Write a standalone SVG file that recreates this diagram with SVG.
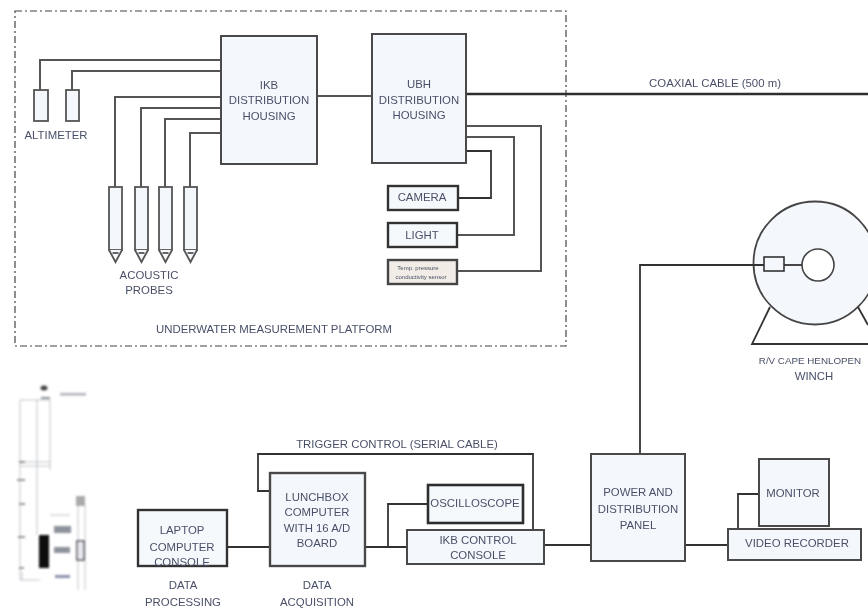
<svg xmlns="http://www.w3.org/2000/svg" width="868" height="609" viewBox="0 0 868 609">
<style>
text{font-family:"Liberation Sans",Arial,sans-serif;font-size:11.400px;fill:#4a5068;text-anchor:middle}
.box{fill:#f4f8fc;stroke:#4a4a4a;stroke-width:2}
.dark{fill:#f6f9fc;stroke:#333;stroke-width:2.400}
.probe{fill:#f4f8fc;stroke:#555;stroke-width:1.800}
.w{fill:none;stroke:#555;stroke-width:2}
.k{fill:none;stroke:#333;stroke-width:1.800}
.t{stroke:#b0b4bc;stroke-width:.8;fill:none}
.blob{fill:#8d929c}
</style>
<defs>
<filter id="soft" x="0" y="0" width="868" height="609" filterUnits="userSpaceOnUse"><feGaussianBlur stdDeviation="0.45"/></filter>
<filter id="softer" x="0" y="370" width="120" height="230" filterUnits="userSpaceOnUse"><feGaussianBlur stdDeviation="0.8"/></filter>
<g id="probe"><rect class="probe" x="0" y="0" width="13" height="63"/><path class="probe" d="M0 63 L6.500 75 L13 63"/><path class="probe" d="M3.500 66 H9.500"/></g>
</defs>
<rect width="868" height="609" fill="#fff"/>
<g filter="url(#soft)">
<g id="platform">
<rect x="15" y="11" width="551" height="335" fill="none" stroke="#444" stroke-width="1.200" stroke-dasharray="7 3 2 3"/>
<text x="274" y="333">UNDERWATER MEASUREMENT PLATFORM</text>
</g>
<g id="winch">
<path class="k" d="M770 307L752 344H868M858 307L868 325"/>
<circle cx="815" cy="263" r="61.500" fill="#f4f8fc" stroke="#444" stroke-width="1.800"/>
<circle cx="818" cy="265" r="16" fill="#fff" stroke="#444" stroke-width="1.600"/>
<rect x="764" y="257" width="20" height="14" fill="#f4f8fc" stroke="#333" stroke-width="1.600"/>
<text x="810" y="364" style="font-size:9.800px">R/V CAPE HENLOPEN</text>
<text x="814" y="380">WINCH</text>
</g>
<g id="connectors">
<path class="w" d="M221 60H40V90"/>
<path class="w" d="M221 71H72V90"/>
<path class="w" d="M221 97H115V187"/>
<path class="w" d="M221 108H141V187"/>
<path class="w" d="M221 119H165V187"/>
<path class="w" d="M221 133H190V187"/>
<path class="w" d="M317 96H372"/>
<path d="M466 94H868" fill="none" stroke="#2e2e2e" stroke-width="2.400"/>
<path class="w" d="M466 126H541V271H457"/>
<path class="w" d="M466 137H514V235H457"/>
<path class="k" d="M466 151H491V198H458"/>
<path class="k" d="M640 454V265H764"/>
<path class="k" d="M784 265H802"/>
<path class="k" d="M227 547H270"/>
<path class="k" d="M365 547H407"/>
<path class="k" d="M388 547V504H428"/>
<path class="k" d="M270 491H258V454H533V530"/>
<path class="k" d="M544 545H591"/>
<path class="k" d="M685 545H728"/>
<path class="k" d="M738 529V494H759"/>
</g>
<g id="altimeter">
<rect class="probe" x="34" y="90" width="14" height="31"/>
<rect class="probe" x="66" y="90" width="13" height="31"/>
<text x="56" y="139">ALTIMETER</text>
</g>
<g id="acoustic-probes">
<use href="#probe" x="109" y="187"/>
<use href="#probe" x="135" y="187"/>
<use href="#probe" x="159" y="187"/>
<use href="#probe" x="184" y="187"/>
<text x="149" y="279">ACOUSTIC</text>
<text x="149" y="294">PROBES</text>
</g>
<g id="ikb-housing">
<rect class="box" x="221" y="36" width="96" height="128"/>
<text x="269" y="89">IKB</text>
<text x="269" y="104">DISTRIBUTION</text>
<text x="269" y="120">HOUSING</text>
</g>
<g id="ubh-housing">
<rect class="box" x="372" y="34" width="94" height="129"/>
<text x="419" y="88">UBH</text>
<text x="419" y="104">DISTRIBUTION</text>
<text x="419" y="119">HOUSING</text>
</g>
<g id="camera">
<rect class="dark" x="388" y="186" width="70" height="24"/>
<text x="422" y="201">CAMERA</text>
</g>
<g id="light">
<rect class="dark" x="388" y="223" width="69" height="24"/>
<text x="422" y="239">LIGHT</text>
</g>
<g id="sensor">
<rect x="388" y="260" width="69" height="24" fill="#f1ede6" stroke="#444" stroke-width="2.400"/>
<text x="418" y="270" style="font-size:6px">Temp. pressure</text>
<text x="421" y="279" style="font-size:6px">conductivity sensor</text>
</g>
<g id="coax-label"><text x="715" y="87">COAXIAL CABLE (500 m)</text></g>
<g id="trigger-label"><text x="397" y="448">TRIGGER CONTROL (SERIAL CABLE)</text></g>
<g id="laptop">
<rect class="dark" x="138" y="510" width="89" height="56"/>
<text x="182" y="534">LAPTOP</text>
<text x="182" y="551">COMPUTER</text>
<text x="182" y="566">CONSOLE</text>
<text x="183" y="589">DATA</text>
<text x="183" y="606">PROCESSING</text>
</g>
<g id="lunchbox">
<rect class="box" x="270" y="473" width="95" height="93" style="stroke-width:2.400"/>
<text x="317" y="501">LUNCHBOX</text>
<text x="317" y="516">COMPUTER</text>
<text x="317" y="532">WITH 16 A/D</text>
<text x="317" y="547">BOARD</text>
<text x="317" y="589">DATA</text>
<text x="317" y="606">ACQUISITION</text>
</g>
<g id="oscilloscope">
<rect x="428" y="485" width="95" height="38" fill="#f6f9fc" stroke="#2e2e2e" stroke-width="2.600"/>
<text x="475" y="507">OSCILLOSCOPE</text>
</g>
<g id="ikb-console">
<rect class="box" x="407" y="530" width="137" height="34"/>
<text x="478" y="544">IKB CONTROL</text>
<text x="478" y="559">CONSOLE</text>
</g>
<g id="power-panel">
<rect class="box" x="591" y="454" width="94" height="107"/>
<text x="638" y="496">POWER AND</text>
<text x="638" y="513">DISTRIBUTION</text>
<text x="638" y="529">PANEL</text>
</g>
<g id="monitor">
<rect class="box" x="759" y="459" width="70" height="67"/>
<text x="793" y="497">MONITOR</text>
</g>
<g id="video-recorder">
<rect class="box" x="728" y="529" width="133" height="31"/>
<text x="797" y="547">VIDEO RECORDER</text>
</g>
</g>
<g id="profile-thumbnail" filter="url(#softer)">
<path class="t" d="M20 400V580M37 400V535M50 400V470M50 400H20M20 462H50M20 466H50M50 515H70M78 505V590M85 505V590M20 580H40M22 572V580"/>
<path d="M19 462h6M17 480h8M19 504h6M18 537h7M19 568h5" stroke="#777" stroke-width="1.500"/>
<rect x="39" y="535" width="10" height="33" fill="#0c0c0c"/>
<ellipse cx="44" cy="388" rx="3.500" ry="2.500" fill="#444"/>
<rect class="blob" x="41" y="397" width="9" height="2"/>
<rect class="blob" x="60" y="393" width="26" height="2.500" opacity=".7"/>
<rect class="blob" x="54" y="526" width="17" height="7"/>
<rect class="blob" x="54" y="547" width="16" height="6"/>
<rect x="55" y="575" width="15" height="3" fill="#8d92ae"/>
<rect x="76" y="496" width="9" height="10" fill="#aaa"/>
<rect x="77" y="541" width="7" height="19" fill="#e8eaf2" stroke="#444" stroke-width="1.500"/>
</g>
</svg>
